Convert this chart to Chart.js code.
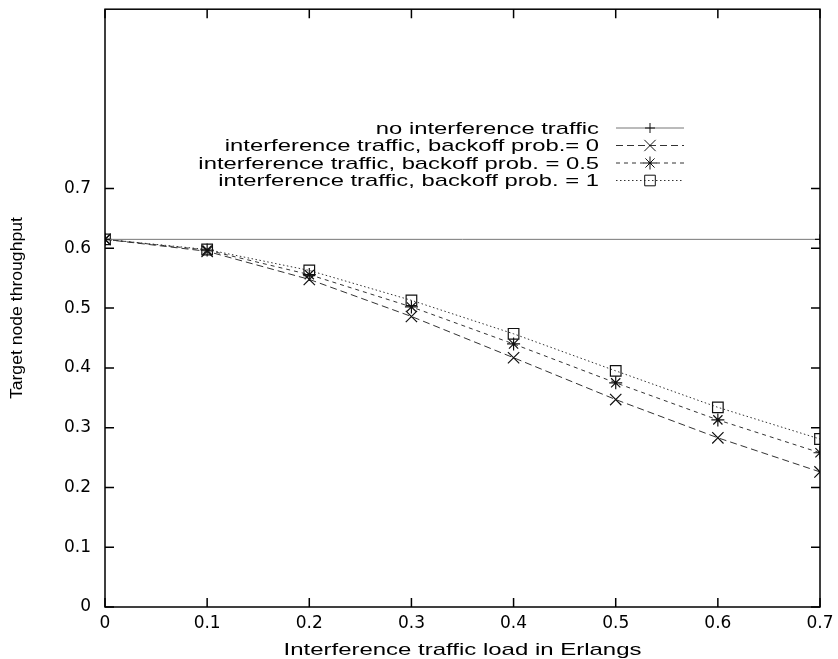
<!DOCTYPE html>
<html>
<head>
<meta charset="utf-8">
<script src="https://cdn.jsdelivr.net/npm/chart.js@4/dist/chart.umd.min.js"></script>
<style>
  html, body { margin: 0; padding: 0; background: #fff; }
  canvas { display: block; }
</style>
</head>
<body>
<canvas id="chart" width="838" height="659"></canvas>
<script>
'use strict'

// interference load (Erlangs)
const loads = [0, 0.1, 0.2, 0.3, 0.4, 0.5, 0.6, 0.7]
const noInterfLoads = [0, 0.7]
const noInterf = [0.615, 0.615]
const backoff0 = [0.615, 0.595, 0.548, 0.486, 0.417, 0.347, 0.283, 0.226]
const backoff05 = [0.615, 0.597, 0.556, 0.502, 0.440, 0.375, 0.313, 0.258]
const backoff1 = [0.615, 0.598, 0.563, 0.513, 0.457, 0.395, 0.334, 0.281]
const yTickVals = [0, 0.1, 0.2, 0.3, 0.4, 0.5, 0.6, 0.7]
const xTickVals = [0, 0.1, 0.2, 0.3, 0.4, 0.5, 0.6, 0.7]
const xTitle = 'Interference traffic load in Erlangs'
const yTitle = 'Target node throughput'

const FONT = "'Liberation Sans', Arial, sans-serif"
const TICK_FONT = "'DejaVu Sans', 'Liberation Sans', sans-serif"

const pts = (xs, ys) => xs.map((x, i) => ({ x, y: ys[i] }))

// the reference glyphs are stretched sideways
function wideText(ctx, text, x, y, sx, align) {
  ctx.save()
  ctx.translate(x, y)
  ctx.scale(sx, 1)
  ctx.textAlign = align
  ctx.fillText(text, 0, 0)
  ctx.restore()
}

// gnuplot-style frame with inward ticks on all four sides, plus axis titles
const framePlugin = {
  id: 'frame',
  afterDatasetsDraw(chart) {
    const { ctx, chartArea: a, scales } = chart
    ctx.save()
    ctx.strokeStyle = '#000'
    ctx.lineWidth = 1.5
    ctx.strokeRect(a.left, a.top, a.right - a.left, a.bottom - a.top)
    const len = 9
    ctx.beginPath()
    xTickVals.forEach((v) => {
      const px = scales.x.getPixelForValue(v)
      ctx.moveTo(px, a.bottom); ctx.lineTo(px, a.bottom - len)
      ctx.moveTo(px, a.top); ctx.lineTo(px, a.top + len)
    })
    yTickVals.forEach((v) => {
      const py = scales.y.getPixelForValue(v)
      ctx.moveTo(a.left, py); ctx.lineTo(a.left + len, py)
      ctx.moveTo(a.right, py); ctx.lineTo(a.right - len, py)
    })
    ctx.stroke()

    ctx.fillStyle = '#000'
    ctx.textBaseline = 'middle'
    ctx.font = '17px ' + FONT
    wideText(ctx, xTitle, (a.left + a.right) / 2, 650, 1.41, 'center')

    ctx.font = '16px ' + FONT
    ctx.translate(18, (a.top + a.bottom) / 2)
    ctx.rotate(-Math.PI / 2)
    wideText(ctx, yTitle, 0, 0, 1.1, 'center')
    ctx.restore()
  },
}

// key in the gnuplot layout: right-aligned text, sample line to the right
const keyPlugin = {
  id: 'key',
  afterDraw(chart) {
    const { ctx } = chart
    const textRight = 599
    const lineL = 616
    const lineR = 684
    const rowY = [128, 145.5, 163, 180.5]
    ctx.save()
    ctx.font = '17px ' + FONT
    ctx.textBaseline = 'middle'
    chart.data.datasets.forEach((ds, i) => {
      const y = rowY[i]
      ctx.fillStyle = '#000'
      wideText(ctx, ds.label, textRight, y + 1, 1.4, 'right')
      ctx.strokeStyle = ds.borderColor
      ctx.lineWidth = ds.borderWidth
      ctx.setLineDash(ds.borderDash || [])
      ctx.beginPath()
      ctx.moveTo(lineL, y); ctx.lineTo(lineR, y)
      ctx.stroke()
      ctx.setLineDash([])
      ctx.strokeStyle = ds.pointBorderColor
      ctx.fillStyle = 'rgba(0,0,0,0)'
      Chart.helpers.drawPoint(ctx, {
        pointStyle: ds.pointStyle,
        radius: ds.pointRadius,
        rotation: 0,
        borderWidth: ds.pointBorderWidth,
      }, (lineL + lineR) / 2, y)
    })
    ctx.restore()
  },
}

function series(label, data, dash, style, radius, color) {
  return {
    label,
    data,
    borderColor: color,
    borderWidth: 1,
    borderDash: dash,
    pointStyle: style,
    pointRadius: radius,
    pointHoverRadius: radius,
    pointBorderColor: '#111',
    pointBackgroundColor: 'rgba(0,0,0,0)',
    pointBorderWidth: 1.2,
    tension: 0,
    fill: false,
  }
}

new Chart(document.getElementById('chart'), {
  type: 'line',
  data: {
    datasets: [
      series('no interference traffic', pts(noInterfLoads, noInterf), [], 'cross', 5, '#777'),
      series('interference traffic, backoff prob.= 0', pts(loads, backoff0), [7, 4], 'crossRot', 8, '#333'),
      series('interference traffic, backoff prob. = 0.5', pts(loads, backoff05), [4, 4], 'star', 6.5, '#333'),
      series('interference traffic, backoff prob. = 1', pts(loads, backoff1), [1.5, 2.5], 'rect', 7.5, '#333'),
    ],
  },
  options: {
    responsive: false,
    animation: false,
    events: [],
    layout: { padding: { top: 9, right: 18, bottom: 0, left: 0 } },
    plugins: {
      legend: { display: false },
      tooltip: { enabled: false },
    },
    scales: {
      x: {
        type: 'linear',
        min: 0,
        max: 0.7,
        afterBuildTicks(scale) {
          scale.ticks = xTickVals.map((v) => ({ value: v }))
        },
        afterFit(scale) {
          scale.height = 52
          scale.paddingLeft = 0
          scale.paddingRight = 0
        },
        grid: { display: false, drawTicks: false },
        border: { display: false },
        ticks: {
          color: '#000',
          padding: 6,
          maxRotation: 0,
          font: { family: TICK_FONT, size: 17 },
          callback: (v) => String(Math.round(v * 10) / 10),
        },
      },
      y: {
        type: 'linear',
        min: 0,
        max: 1.0,
        afterBuildTicks(scale) {
          scale.ticks = yTickVals.map((v) => ({ value: v }))
        },
        afterFit(scale) {
          scale.width = 105
          scale.paddingTop = 0
          scale.paddingBottom = 0
        },
        grid: { display: false, drawTicks: false },
        border: { display: false },
        ticks: {
          color: '#000',
          padding: 14,
          font: { family: TICK_FONT, size: 17 },
          callback: (v) => String(Math.round(v * 10) / 10),
        },
      },
    },
  },
  plugins: [framePlugin, keyPlugin],
})
</script>
</body>
</html>
